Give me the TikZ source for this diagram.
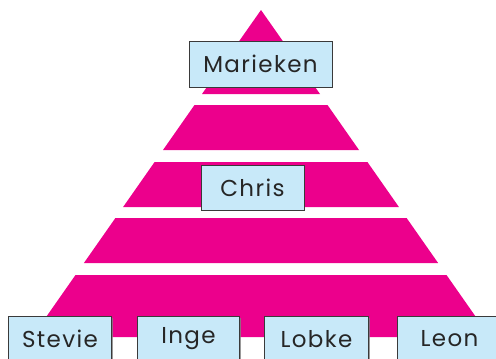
\documentclass[tikz,border=0pt]{standalone}
\usepackage{fontspec}
\setmainfont{Poppins}[LetterSpace=6]
\usetikzlibrary{shadows}
\definecolor{pyrpink}{HTML}{EC008C}
\definecolor{boxblue}{HTML}{C8E9F9}
\definecolor{boxline}{HTML}{3A3A3A}
\begin{document}
\begin{tikzpicture}[x=1pt,y=-1pt,
  band/.style={fill=pyrpink,draw=none},
  namebox/.style={draw=boxline,line width=0.9pt,fill=boxblue,
    drop shadow={shadow xshift=1.2pt,shadow yshift=-1.2pt,fill=gray,opacity=0.8},
    inner sep=0pt,font=\fontsize{23}{26}\selectfont,text=black!85},
  basebox/.style={namebox,minimum height=45pt,anchor=north west}]
\useasboundingbox (0,0) rectangle (496,359);
% pyramid: apex (261,10), half width = 0.7*(y-10)
\newcommand{\pyrband}[2]{%
  \pgfmathsetmacro{\wa}{0.7*(#1-10)}%
  \pgfmathsetmacro{\wb}{0.7*(#2-10)}%
  \fill[band] (261-\wa,#1) -- (261+\wa,#1) -- (261+\wb,#2) -- (261-\wb,#2) -- cycle;}
\fill[band] (261,10) -- (261+59,94) -- (261-59,94) -- cycle;
\pyrband{105}{150}
\pyrband{162}{207}
\pyrband{218}{263}
\pyrband{275}{337}
% boxes
\node[namebox,minimum width=143pt,minimum height=46pt] (marieken) at (260.5,64) {Marieken};
\node[namebox,minimum width=103pt,minimum height=45pt] (chris) at (252.5,187.5) {Chris};
\node[basebox,minimum width=103pt] (stevie) at (8,316) {Stevie};
\node[basebox,minimum width=102pt] (inge) at (137,316) {Inge};
\node[basebox,minimum width=104pt] (lobke) at (264,316) {Lobke};
\node[basebox,minimum width=104pt] (leon) at (397,316) {Leon};
\end{tikzpicture}
\end{document}
